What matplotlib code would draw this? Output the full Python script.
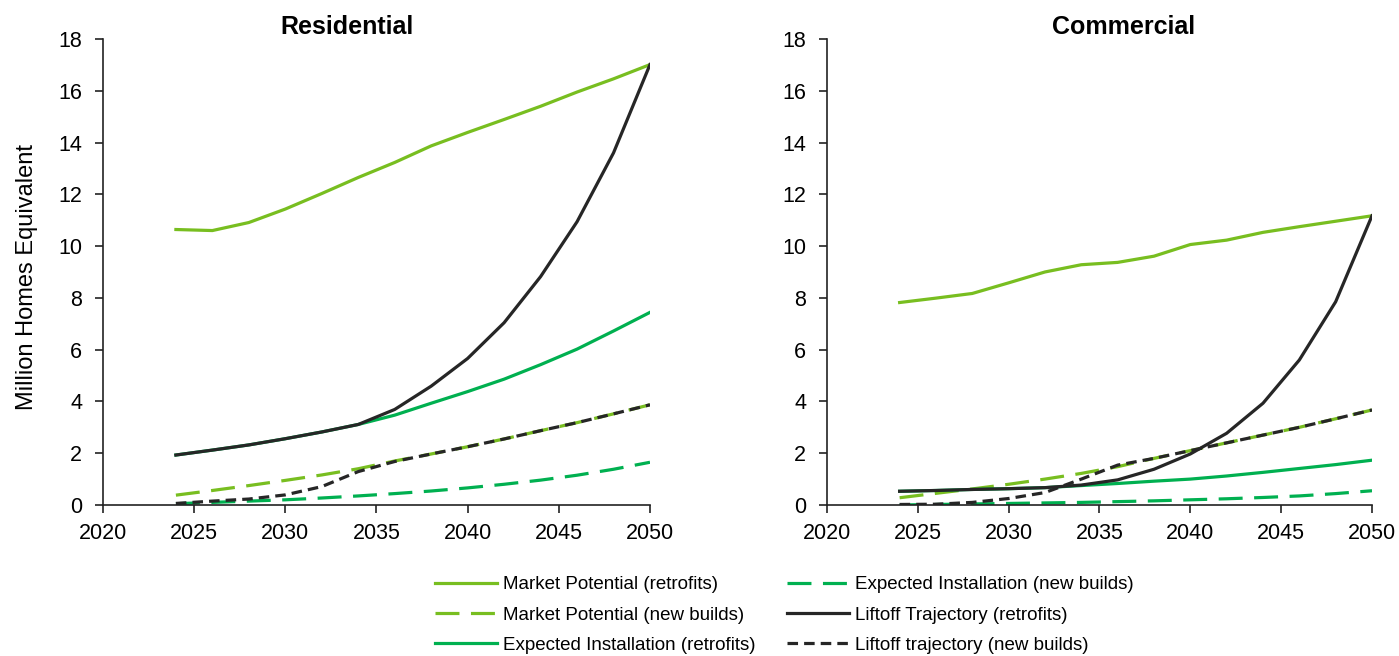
import matplotlib
matplotlib.use("Agg")
import matplotlib.pyplot as plt

plt.rcParams['font.family'] = ['Liberation Sans', 'DejaVu Sans']

years = [2024, 2026, 2028, 2030, 2032, 2034, 2036, 2038, 2040, 2042, 2044, 2046, 2048, 2050]

# Residential
res_mp_retro = [10.64, 10.60, 10.91, 11.43, 12.03, 12.65, 13.23, 13.87, 14.39, 14.89, 15.40, 15.95, 16.46, 17.01]
res_mp_new = [0.38, 0.56, 0.75, 0.95, 1.16, 1.40, 1.70, 1.97, 2.25, 2.55, 2.87, 3.18, 3.52, 3.87]
res_ei_retro = [1.93, 2.12, 2.32, 2.56, 2.82, 3.11, 3.47, 3.93, 4.38, 4.86, 5.42, 6.02, 6.72, 7.44]
res_ei_new = [0.05, 0.10, 0.15, 0.20, 0.27, 0.35, 0.44, 0.54, 0.66, 0.80, 0.96, 1.15, 1.38, 1.65]
res_lt_retro = [1.93, 2.12, 2.32, 2.56, 2.82, 3.11, 3.69, 4.59, 5.66, 7.04, 8.82, 10.94, 13.60, 17.01]
res_lt_new = [0.06, 0.15, 0.23, 0.39, 0.71, 1.29, 1.68, 1.97, 2.25, 2.55, 2.87, 3.18, 3.52, 3.87]

# Commercial
com_mp_retro = [7.82, 7.99, 8.17, 8.58, 9.00, 9.28, 9.37, 9.61, 10.06, 10.23, 10.53, 10.75, 10.96, 11.17]
com_mp_new = [0.28, 0.45, 0.62, 0.80, 1.00, 1.22, 1.48, 1.80, 2.10, 2.40, 2.70, 3.00, 3.33, 3.67]
com_ei_retro = [0.53, 0.56, 0.60, 0.63, 0.67, 0.75, 0.83, 0.92, 1.00, 1.12, 1.26, 1.41, 1.56, 1.73]
com_ei_new = [0.00, 0.02, 0.04, 0.06, 0.08, 0.10, 0.13, 0.16, 0.20, 0.24, 0.29, 0.35, 0.44, 0.55]
com_lt_retro = [0.53, 0.56, 0.60, 0.63, 0.67, 0.77, 0.97, 1.38, 1.97, 2.77, 3.93, 5.60, 7.85, 11.17]
com_lt_new = [0.02, 0.03, 0.10, 0.25, 0.48, 1.00, 1.54, 1.80, 2.10, 2.40, 2.70, 3.00, 3.33, 3.67]

labels = ["Market Potential (retrofits)", "Market Potential (new builds)",
          "Expected Installation (retrofits)", "Expected Installation (new builds)",
          "Liftoff Trajectory (retrofits)", "Liftoff trajectory (new builds)"]

LIME = "#78BE20"
GREEN = "#00B050"
BLACK = "#262626"
long_dash = (0, (7.5, 3.6))
short_dash = (0, (3.3, 1.9))

styles = [
    dict(color=LIME, ls="-"),
    dict(color=LIME, ls=long_dash),
    dict(color=GREEN, ls="-"),
    dict(color=GREEN, ls=long_dash),
    dict(color=BLACK, ls="-"),
    dict(color=BLACK, ls=short_dash),
]

fig = plt.figure(figsize=(13.99, 6.56), dpi=100)
ax1 = fig.add_axes([0.0736, 0.2302, 0.391, 0.7104])
ax2 = fig.add_axes([0.5911, 0.2302, 0.3896, 0.7104])

handles = []
for ax, title, tx, series in [
    (ax1, "Residential", 0.446, [res_mp_retro, res_mp_new, res_ei_retro, res_ei_new, res_lt_retro, res_lt_new]),
    (ax2, "Commercial", 0.545, [com_mp_retro, com_mp_new, com_ei_retro, com_ei_new, com_lt_retro, com_lt_new]),
]:
    hs = []
    for vals, st, lab in zip(series, styles, labels):
        h, = ax.plot(years, vals, lw=2.3, label=lab, **st)
        hs.append(h)
    handles = hs
    ax.set_xlim(2020, 2050)
    ax.set_ylim(0, 18)
    ax.set_xticks(range(2020, 2051, 5))
    ax.set_yticks(range(0, 19, 2))
    ax.spines['top'].set_visible(False)
    ax.spines['right'].set_visible(False)
    for s in ['left', 'bottom']:
        ax.spines[s].set_linewidth(1.2)
        ax.spines[s].set_color('#222222')
    ax.tick_params(direction='out', length=6, width=1.2, labelsize=15.5, colors='#222222', labelcolor='black')
    ax.tick_params(axis='y', pad=9)
    ax.tick_params(axis='x', pad=7)
    ax.set_title(title, fontsize=18, fontweight='bold', pad=3.5, x=tx)

ax1.set_ylabel("Million Homes Equivalent", fontsize=17)
ax1.yaxis.set_label_coords(-0.119, 0.49)

fig.legend(handles, labels, ncol=2, loc='upper left', bbox_to_anchor=(0.311, 0.122),
           frameon=False, fontsize=13.5, handlelength=3.3, handletextpad=0.32,
           columnspacing=1.67, labelspacing=0.71, borderpad=0, borderaxespad=0)

fig.savefig("out.png", dpi=100)
